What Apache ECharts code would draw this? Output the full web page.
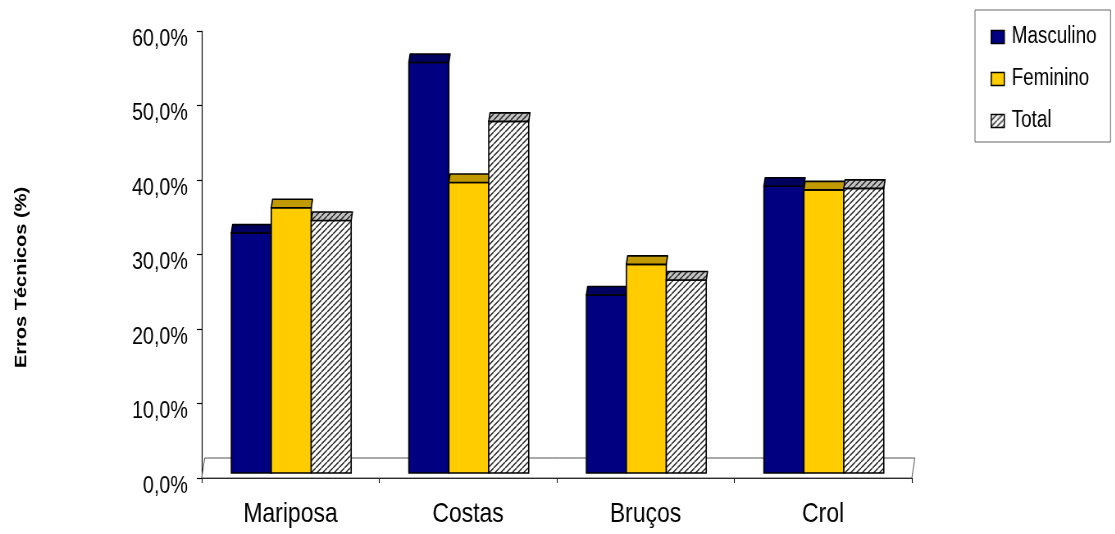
<!DOCTYPE html>
<html>
<head>
<meta charset="utf-8">
<script src="https://cdn.jsdelivr.net/npm/echarts@6/dist/echarts.min.js"></script>
<style>
  html, body { margin: 0; padding: 0; background: #fff; overflow: hidden; }
  #wrap { width: 1115px; height: 534px; overflow: hidden; }
  /* the chart is laid out wide and condensed horizontally, giving narrow lettering */
  #chart { width: 1360px; height: 534px; transform: scaleX(0.82); transform-origin: 0 0; }
</style>
</head>
<body>
<div id="wrap"><div id="chart"></div></div>
<script>
// Technical errors by swimming stroke and sex
const categories = ['Mariposa', 'Costas', 'Bruços', 'Crol'];
const seriesNames = ['Masculino', 'Feminino', 'Total'];
const masculino = [32.2, 55.1, 23.9, 38.5];
const feminino  = [35.6, 39.0, 28.0, 38.0];
const total     = [33.9, 47.2, 25.9, 38.2];
const yTickLabels = ['0,0%', '10,0%', '20,0%', '30,0%', '40,0%', '50,0%', '60,0%'];

const FONT = "'Liberation Sans', Arial, sans-serif";

// diagonal hatch used for the "Total" columns
function hatch(bg) {
  const c = document.createElement('canvas');
  c.width = 7; c.height = 6;
  const g = c.getContext('2d');
  g.fillStyle = bg;
  g.fillRect(0, 0, 7, 6);
  g.strokeStyle = '#2a2a2a';
  g.lineWidth = 1.4;
  g.beginPath();
  g.moveTo(-7, 6); g.lineTo(0, 0);
  g.moveTo(0, 6);  g.lineTo(7, 0);
  g.moveTo(7, 6);  g.lineTo(14, 0);
  g.stroke();
  return c;
}
const hatchFront = { image: hatch('#ffffff'), repeat: 'repeat' };
const hatchTop = { image: hatch('#c4c4c4'), repeat: 'repeat' };

const styles = [
  { front: '#000080', top: '#00005e' },
  { front: '#ffcc00', top: '#c09a00' },
  { front: hatchFront, top: hatchTop }
];

// pseudo-3D depth of the plot floor and of each column
const FLOOR_DEPTH = 20, FLOOR_SHIFT = 3.7;
const BAR_INSET = 5, BAR_DEPTH = 8.5;
const BAR_FRACTION = 0.225;

function columnRenderer(si) {
  return function (params, api) {
    const ci = api.value(0);
    const v = api.value(1);
    const base = api.coord([ci, 0]);
    const top = api.coord([ci, v]);
    const band = api.size([1, 0])[0];
    const w = band * BAR_FRACTION;
    const x0 = base[0] - 1.5 * w + si * w + BAR_INSET * FLOOR_SHIFT / FLOOR_DEPTH;
    const yb = base[1] - BAR_INSET;
    const yt = top[1] - BAR_INSET;
    const dx = BAR_DEPTH * FLOOR_SHIFT / FLOOR_DEPTH;
    const st = styles[si];
    return {
      type: 'group',
      children: [
        {
          type: 'rect',
          shape: { x: x0, y: yt, width: w, height: yb - yt },
          style: { fill: st.front, stroke: '#000', lineWidth: 1.6 }
        },
        {
          type: 'polygon',
          shape: { points: [[x0, yt], [x0 + w, yt], [x0 + w + dx, yt - BAR_DEPTH], [x0 + dx, yt - BAR_DEPTH]] },
          style: { fill: st.top, stroke: '#000', lineWidth: 1.6, lineJoin: 'round' }
        }
      ]
    };
  };
}

function floorRenderer(params) {
  const cs = params.coordSys;
  const yF = cs.y + cs.height;
  const yB = yF - FLOOR_DEPTH;
  return {
    type: 'polygon',
    shape: { points: [[cs.x, yF], [cs.x + cs.width, yF], [cs.x + cs.width + FLOOR_SHIFT, yB], [cs.x + FLOOR_SHIFT, yB]] },
    style: { fill: '#fff', stroke: '#555', lineWidth: 1 },
    silent: true
  };
}

const values = [masculino, feminino, total];
const series = [{
  type: 'custom',
  name: 'floor',
  renderItem: floorRenderer,
  data: [[0, 0]],
  z: 1,
  silent: true
}];
seriesNames.forEach((name, si) => {
  series.push({
    type: 'custom',
    name: name,
    renderItem: columnRenderer(si),
    encode: { x: 0, y: 1 },
    data: values[si].map((v, i) => [i, v]),
    itemStyle: { color: styles[si].front, borderColor: '#000', borderWidth: 1.5 },
    z: 2
  });
});

const chart = echarts.init(document.getElementById('chart'), null, { renderer: 'canvas', width: 1360, height: 534 });
chart.setOption({
  animation: false,
  backgroundColor: '#fff',
  grid: { left: 246, right: 248, top: 31, bottom: 56 },
  legend: {
    data: seriesNames.map((n, si) => ({
      name: n,
      icon: 'rect',
      itemStyle: { color: styles[si].front, borderColor: '#000', borderWidth: 1.5 }
    })),
    orient: 'vertical',
    left: 1189, top: 10,
    padding: [15, 17, 9, 19],
    itemWidth: 16, itemHeight: 13,
    itemGap: 18,
    itemStyle: { borderColor: '#000', borderWidth: 1.5 },
    borderColor: '#666', borderWidth: 1,
    textStyle: { fontFamily: FONT, fontSize: 23, color: '#000', lineHeight: 24, padding: [0, 0, 0, 4] }
  },
  xAxis: {
    type: 'category',
    data: categories,
    axisLine: { lineStyle: { color: '#000', width: 1 } },
    axisTick: { show: true, length: 5, lineStyle: { color: '#000' } },
    axisLabel: { margin: 22, fontFamily: FONT, fontSize: 28, color: '#000' },
    splitLine: { show: false }
  },
  yAxis: {
    type: 'value',
    min: 0, max: 60, interval: 10,
    name: 'Erros Técnicos (%)',
    nameLocation: 'middle',
    nameRotate: 90,
    nameGap: 210,
    nameTextStyle: { fontFamily: FONT, fontWeight: 'bold', fontSize: 20, color: '#000', padding: [0, 46, 0, 0] },
    axisLine: { show: true, lineStyle: { color: '#000', width: 1.2 } },
    axisTick: { show: true, length: 6, lineStyle: { color: '#000', width: 1.2 } },
    axisLabel: {
      margin: 17,
      fontFamily: FONT, fontSize: 24, color: '#000',
      verticalAlign: 'top', lineHeight: 16,
      formatter: (v) => yTickLabels[Math.round(v / 10)]
    },
    splitLine: { show: false }
  },
  series: series
});
</script>
</body>
</html>
